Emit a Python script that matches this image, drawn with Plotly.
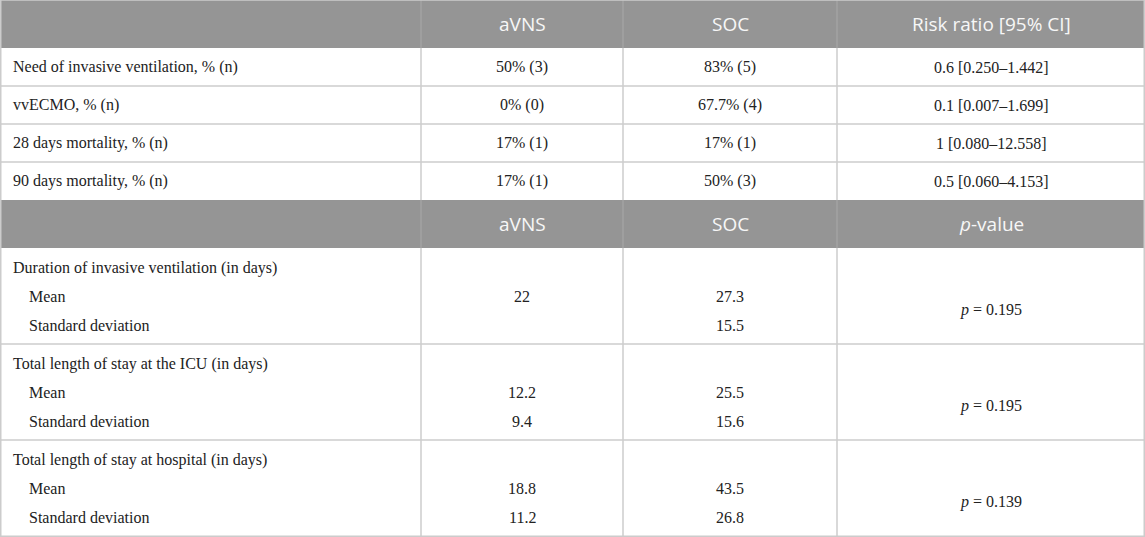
import plotly.graph_objects as go

# table content
col_heads_top = ["", "aVNS", "SOC", "Risk ratio [95% CI]"]
outcomes = ["Need of invasive ventilation, % (n)", "vvECMO, % (n)",
            "28 days mortality, % (n)", "90 days mortality, % (n)"]
avns_pct = ["50% (3)", "0% (0)", "17% (1)", "17% (1)"]
soc_pct = ["83% (5)", "67.7% (4)", "17% (1)", "50% (3)"]
risk_ratio = ["0.6 [0.250–1.442]", "0.1 [0.007–1.699]", "1 [0.080–12.558]", "0.5 [0.060–4.153]"]

col_heads_bottom = ["", "aVNS", "SOC", "<i>p</i>-value"]
sections = ["Duration of invasive ventilation (in days)",
            "Total length of stay at the ICU (in days)",
            "Total length of stay at hospital (in days)"]
stat_labels = ["Mean", "Standard deviation"]
avns_mean = ["22", "12.2", "18.8"]
avns_sd = ["", "9.4", "11.2"]
soc_mean = ["27.3", "25.5", "43.5"]
soc_sd = ["15.5", "15.6", "26.8"]
p_values = ["0.195", "0.195", "0.139"]

W, H = 1145, 537
col_x = [0, 421, 623, 837, 1145]
col_mid = [(col_x[i] + col_x[i + 1]) / 2 for i in range(4)]
head_h = 48
row_h = 38
sec_h = 96

serif = dict(family="Liberation Serif, Times New Roman, serif", size=16, color="#222222")
sans = dict(family="Open Sans, sans-serif", size=19, color="#f7f7f7")
grid = "#cccccc"
head_bg = "#959595"

shapes = []
ann = []


def text(x, y, s, font, anchor="center"):
    ann.append(dict(x=x, y=y, text=s, showarrow=False, xanchor=anchor, yanchor="middle",
                    font=font, xref="x", yref="y"))


def hline(y):
    shapes.append(dict(type="line", x0=0, x1=W, y0=y, y1=y, line=dict(color=grid, width=1.5)))


def header(y0, labels):
    shapes.append(dict(type="rect", x0=0, x1=W, y0=y0, y1=y0 + head_h,
                       fillcolor=head_bg, line=dict(width=0), layer="below"))
    for cx in col_x[1:4]:
        shapes.append(dict(type="line", x0=cx, x1=cx, y0=y0, y1=y0 + head_h,
                           line=dict(color="#a9a9a9", width=1)))
    for i, lab in enumerate(labels):
        if lab:
            text(col_mid[i], y0 + head_h / 2, lab, sans)


# top block
y = 0
header(y, col_heads_top)
y += head_h
for i in range(len(outcomes)):
    yc = y + row_h / 2
    text(11, yc, outcomes[i], serif, "left")
    text(col_mid[1], yc, avns_pct[i], serif)
    text(col_mid[2], yc, soc_pct[i], serif)
    text(col_mid[3], yc, risk_ratio[i], serif)
    y += row_h
    if i < len(outcomes) - 1:
        hline(y)
top_body_end = y

# bottom block
header(y, col_heads_bottom)
y += head_h
body_start = y
for i in range(len(sections)):
    y_title = y + 20
    y_mean = y + 48
    y_sd = y + 77
    text(11, y_title, sections[i], serif, "left")
    text(27, y_mean, stat_labels[0], serif, "left")
    text(27, y_sd, stat_labels[1], serif, "left")
    text(col_mid[1], y_mean, avns_mean[i], serif)
    text(col_mid[1], y_sd, avns_sd[i], serif)
    text(col_mid[2], y_mean, soc_mean[i], serif)
    text(col_mid[2], y_sd, soc_sd[i], serif)
    text(col_mid[3], y + 62, "<i>p</i> = " + p_values[i], serif)
    y += sec_h
    if i < len(sections) - 1:
        hline(y)

# vertical grid in body parts
for cx in col_x[1:4]:
    shapes.append(dict(type="line", x0=cx, x1=cx, y0=head_h, y1=top_body_end, line=dict(color=grid, width=1.5)))
    shapes.append(dict(type="line", x0=cx, x1=cx, y0=body_start, y1=H, line=dict(color=grid, width=1.5)))

# outer frame
shapes.append(dict(type="rect", x0=0.75, x1=W - 0.75, y0=0, y1=H - 0.75,
                   line=dict(color=grid, width=1.5), fillcolor="rgba(0,0,0,0)"))

fig = go.Figure()
fig.update_layout(
    width=W, height=H, margin=dict(l=0, r=0, t=0, b=0),
    paper_bgcolor="white", plot_bgcolor="white",
    xaxis=dict(range=[0, W], visible=False, fixedrange=True),
    yaxis=dict(range=[H, 0], visible=False, fixedrange=True),
    shapes=shapes, annotations=ann, showlegend=False,
)
# drop the browser's default page margin so the table fills the window
fig.write_html("out.html", config={"displayModeBar": False},
               post_script="document.body.style.margin='0';document.body.style.overflow='hidden';")
